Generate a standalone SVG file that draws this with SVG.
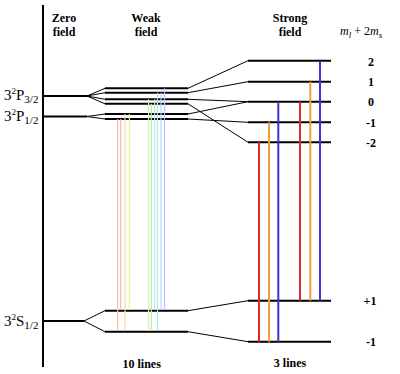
<svg xmlns="http://www.w3.org/2000/svg" width="400" height="374" viewBox="0 0 400 374">
<style>
.lvl{stroke:#000;stroke-width:2;fill:none}
.con{stroke:#000;stroke-width:1;fill:none}
.hd{font-family:"Liberation Serif","Times New Roman",serif;font-weight:bold;font-size:12px;text-anchor:middle;fill:#000}
.num{font-family:"Liberation Serif","Times New Roman",serif;font-weight:bold;font-size:12px;text-anchor:middle;fill:#000}
.st{font-family:"Liberation Serif","Times New Roman",serif;font-size:15px;fill:#000}
.mm{font-family:"Liberation Serif","Times New Roman",serif;font-size:12px;fill:#000}
.wt{stroke-width:1.2;fill:none}
.tt{stroke-width:2;fill:none}
</style>
<rect width="400" height="374" fill="#fff"/>
<g id="axis"><line x1="43" y1="5" x2="43" y2="367" stroke="#000" stroke-width="2"/></g>
<g id="headers">
<text class="hd" x="64" y="22">Zero</text><text class="hd" x="64" y="36">field</text>
<text class="hd" x="146" y="22">Weak</text><text class="hd" x="146" y="36">field</text>
<text class="hd" x="290" y="22">Strong</text><text class="hd" x="290" y="36">field</text>
<text class="mm" x="340" y="35"><tspan font-style="italic">m</tspan><tspan font-style="italic" font-size="9" dy="3">l</tspan><tspan dy="-3"> + 2</tspan><tspan font-style="italic">m</tspan><tspan font-style="italic" font-size="9" dy="3">s</tspan></text>
</g>
<g id="zero-P32"><line class="lvl" x1="43" y1="96" x2="87" y2="96"/><text class="st" x="4" y="100">3<tspan font-size="9" dy="-6">2</tspan><tspan dy="6">P</tspan><tspan font-size="11" dy="3">3/2</tspan></text></g>
<g id="zero-P12"><line class="lvl" x1="43" y1="116.5" x2="87" y2="116.5"/><text class="st" x="4" y="121">3<tspan font-size="9" dy="-6">2</tspan><tspan dy="6">P</tspan><tspan font-size="11" dy="3">1/2</tspan></text></g>
<g id="zero-S12"><line class="lvl" x1="43" y1="321" x2="84" y2="321"/><text class="st" x="4" y="326">3<tspan font-size="9" dy="-6">2</tspan><tspan dy="6">S</tspan><tspan font-size="11" dy="3">1/2</tspan></text></g>
<g id="weak-P32">
<line class="lvl" x1="105" y1="88.3" x2="188" y2="88.3"/>
<line class="lvl" x1="105" y1="92.7" x2="188" y2="92.7"/>
<line class="lvl" x1="105" y1="99.3" x2="188" y2="99.3"/>
<line class="lvl" x1="105" y1="103.8" x2="188" y2="103.8"/>
</g>
<g id="weak-P12">
<line class="lvl" x1="105" y1="114" x2="188" y2="114"/>
<line class="lvl" x1="105" y1="119" x2="188" y2="119"/>
</g>
<g id="weak-S12">
<line class="lvl" x1="105" y1="310.7" x2="188" y2="310.7"/>
<line class="lvl" x1="105" y1="331.7" x2="188" y2="331.7"/>
</g>
<g id="strong-upper">
<line class="lvl" x1="248" y1="60.7" x2="331" y2="60.7"/>
<line class="lvl" x1="248" y1="81.7" x2="331" y2="81.7"/>
<line class="lvl" x1="248" y1="101.7" x2="331" y2="101.7"/>
<line class="lvl" x1="248" y1="122.3" x2="331" y2="122.3"/>
<line class="lvl" x1="248" y1="142.3" x2="331" y2="142.3"/>
<text class="num" x="371" y="66">2</text>
<text class="num" x="371" y="86">1</text>
<text class="num" x="371" y="106">0</text>
<text class="num" x="371" y="127">-1</text>
<text class="num" x="371" y="147">-2</text>
</g>
<g id="strong-lower">
<line class="lvl" x1="248" y1="300.7" x2="331" y2="300.7"/>
<line class="lvl" x1="248" y1="341.7" x2="331" y2="341.7"/>
<text class="num" x="370" y="305">+1</text>
<text class="num" x="371" y="346">-1</text>
</g>
<g id="connectors">
<polyline class="con" points="105,88.3 87,96 105,92.7"/>
<polyline class="con" points="105,99.3 87,96 105,103.8"/>
<polyline class="con" points="105,114 87,116.5 105,119"/>
<polyline class="con" points="105,310.7 84,321 105,331.7"/>
<line class="con" x1="188" y1="88.3" x2="248" y2="60.7"/>
<line class="con" x1="188" y1="92.7" x2="248" y2="81.7"/>
<line class="con" x1="188" y1="99.3" x2="248" y2="101.7"/>
<line class="con" x1="188" y1="103.8" x2="248" y2="142.3"/>
<line class="con" x1="188" y1="114" x2="248" y2="101.7"/>
<line class="con" x1="188" y1="119" x2="248" y2="122.3"/>
<line class="con" x1="188" y1="310.7" x2="248" y2="300.7"/>
<line class="con" x1="188" y1="331.7" x2="248" y2="341.7"/>
</g>
<g id="weak-transitions">
<line class="wt" stroke="#f4c0a8" x1="117.7" y1="119" x2="117.7" y2="331"/>
<line class="wt" stroke="#f8b8b8" x1="120.7" y1="119" x2="120.7" y2="310"/>
<line class="wt" stroke="#f8d8a8" x1="125" y1="114" x2="125" y2="331"/>
<line class="wt" stroke="#f4f0a0" x1="129.3" y1="114" x2="129.3" y2="310"/>
<line class="wt" stroke="#d8f0a0" x1="148.5" y1="99.3" x2="148.5" y2="331"/>
<line class="wt" stroke="#b8e8b0" x1="151.3" y1="103.8" x2="151.3" y2="331"/>
<line class="wt" stroke="#b0f0d8" x1="154.7" y1="99.3" x2="154.7" y2="310"/>
<line class="wt" stroke="#a8e8f0" x1="157.5" y1="92.7" x2="157.5" y2="331"/>
<line class="wt" stroke="#b0d8f8" x1="161" y1="92.7" x2="161" y2="310"/>
<line class="wt" stroke="#c0c0f8" x1="164.5" y1="88.3" x2="164.5" y2="310"/>
</g>
<g id="strong-transitions">
<line class="tt" stroke="#e02828" x1="259" y1="142.3" x2="259" y2="341.7"/>
<line class="tt" stroke="#f0a030" x1="269" y1="122.3" x2="269" y2="341.7"/>
<line class="tt" stroke="#3838d0" x1="278.3" y1="101.7" x2="278.3" y2="341.7"/>
<line class="tt" stroke="#e02828" x1="300" y1="101.7" x2="300" y2="300.7"/>
<line class="tt" stroke="#f0a030" x1="310.3" y1="81.7" x2="310.3" y2="300.7"/>
<line class="tt" stroke="#3838d0" x1="320" y1="60.7" x2="320" y2="300.7"/>
</g>
<g id="footers">
<text class="hd" x="141.7" y="368">10 lines</text>
<text class="hd" x="290" y="367">3 lines</text>
</g>
</svg>
